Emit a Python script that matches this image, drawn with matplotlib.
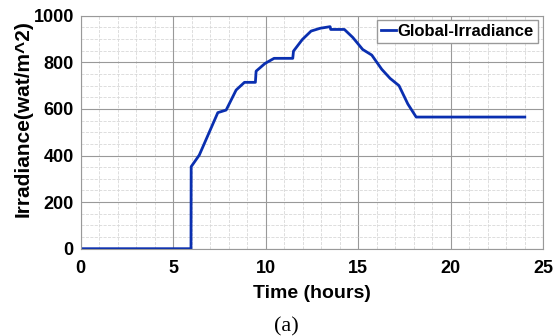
import numpy as np
import matplotlib.pyplot as plt
from matplotlib.ticker import MultipleLocator

# data
hours = [0, 5.96, 5.97, 6.41, 7.41, 7.86, 8.4, 8.85, 9.44, 9.48, 9.96, 10.45,
         11.46, 11.5, 11.98, 12.45, 12.94, 13.48, 13.51, 14.25, 14.7, 15.24,
         15.73, 16.27, 16.72, 17.2, 17.68, 18.13, 24.0]
irradiance = [0, 0, 352, 402, 584, 595, 681, 714, 714, 762, 795, 817,
              817, 848, 898, 934, 946, 953, 941, 941, 907, 855,
              831, 770, 731, 700, 621, 565, 565]

plt.rcParams['font.family'] = ['Liberation Sans', 'DejaVu Sans']

fig = plt.figure(figsize=(5.54, 3.36), dpi=100)
ax = fig.add_axes([80.7/554, 1 - 248.7/336, 462.6/554, 233/336])

ax.plot(hours, irradiance, color='#0a2fb0', lw=2.0, label='Global-Irradiance')

ax.set_xlim(0, 25)
ax.set_ylim(0, 1000)
ax.xaxis.set_major_locator(MultipleLocator(5))
ax.xaxis.set_minor_locator(MultipleLocator(1))
ax.yaxis.set_major_locator(MultipleLocator(200))
ax.yaxis.set_minor_locator(MultipleLocator(50))
ax.grid(True, which='major', color='#999999', lw=0.8)
ax.grid(True, which='minor', color='#d8d8d8', lw=0.6, ls='--')
ax.set_axisbelow(True)
ax.tick_params(which='both', length=0, labelsize=13)
ax.tick_params(axis='x', pad=8)
ax.tick_params(axis='y', pad=5)
for lab in ax.get_xticklabels() + ax.get_yticklabels():
    lab.set_fontweight('bold')
for s in ax.spines.values():
    s.set_color('#999999')

ax.set_xlabel('Time (hours)', fontsize=14, fontweight='bold')
ax.xaxis.set_label_coords(0.5, -0.155)
ax.set_ylabel('Irradiance(wat/m^2)', fontsize=15, fontweight='bold')
ax.yaxis.set_label_coords(-0.105, 0.56)

leg = ax.legend(loc='upper right', bbox_to_anchor=(0.9885, 0.9815),
                prop={'weight': 'bold', 'size': 12},
                handlelength=0.9, handletextpad=0.1, borderpad=0.25,
                fancybox=False, framealpha=1, borderaxespad=0)
leg.get_frame().set_edgecolor('#999999')

fig.text(286.7/554, 1 - 327/336, '(a)', ha='center', va='center', fontsize=16,
         family='Liberation Serif')

fig.savefig('out.png', dpi=100)
